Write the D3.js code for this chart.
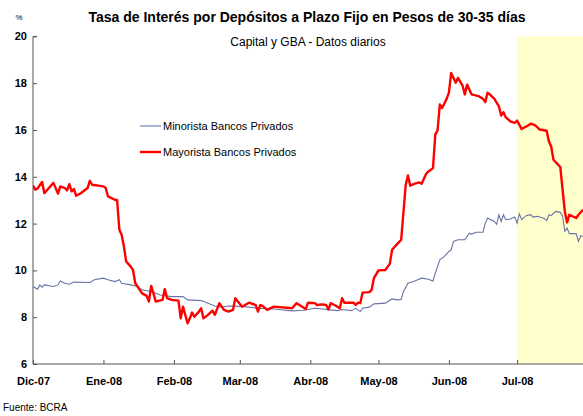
<!DOCTYPE html>
<html>
<head>
<meta charset="utf-8">
<script src="https://cdn.jsdelivr.net/npm/d3@7"></script>
<style>
  body { margin: 0; background: #fff; }
  text { font-family: "Liberation Sans", Arial, sans-serif; }
</style>
</head>
<body>
<div id="app"></div>
<script>
const monthLabels = ['Dic-07', 'Ene-08', 'Feb-08', 'Mar-08', 'Abr-08', 'May-08', 'Jun-08', 'Jul-08']
const monthDates = ['2007-12-01', '2008-01-01', '2008-02-01', '2008-03-01', '2008-04-01', '2008-05-01', '2008-06-01', '2008-07-01']
const yTicks = [6, 8, 10, 12, 14, 16, 18, 20]
const highlightStart = '2008-07-01'

// Minorista Bancos Privados
const minorista = [
  ['2007-12-01', 9.31], ['2007-12-03', 9.2], ['2007-12-04', 9.38], ['2007-12-05', 9.28], ['2007-12-06', 9.38],
  ['2007-12-10', 9.31], ['2007-12-12', 9.38], ['2007-12-13', 9.55], ['2007-12-15', 9.45], ['2007-12-17', 9.41],
  ['2007-12-19', 9.5], ['2007-12-26', 9.48], ['2007-12-28', 9.6], ['2008-01-01', 9.67], ['2008-01-03', 9.6],
  ['2008-01-06', 9.52], ['2008-01-08', 9.6], ['2008-01-09', 9.45], ['2008-01-13', 9.38], ['2008-01-16', 9.31],
  ['2008-01-18', 9.17], ['2008-01-22', 9.1], ['2008-01-26', 8.95], ['2008-01-31', 8.88], ['2008-02-05', 8.88],
  ['2008-02-07', 8.74], ['2008-02-13', 8.71], ['2008-02-16', 8.6], ['2008-02-19', 8.48], ['2008-02-22', 8.43],
  ['2008-02-25', 8.48], ['2008-03-03', 8.45], ['2008-03-09', 8.38], ['2008-03-16', 8.35], ['2008-03-24', 8.27],
  ['2008-03-29', 8.3], ['2008-04-03', 8.38], ['2008-04-13', 8.28], ['2008-04-15', 8.33], ['2008-04-19', 8.28],
  ['2008-04-21', 8.38], ['2008-04-23', 8.24], ['2008-04-24', 8.38], ['2008-04-27', 8.43], ['2008-04-29', 8.57],
  ['2008-05-04', 8.6], ['2008-05-07', 8.78], ['2008-05-09', 8.74], ['2008-05-11', 8.76], ['2008-05-12', 9.1],
  ['2008-05-14', 9.45], ['2008-05-17', 9.55], ['2008-05-20', 9.67], ['2008-05-23', 9.62], ['2008-05-25', 9.55],
  ['2008-05-26', 9.88], ['2008-05-28', 10.45], ['2008-05-30', 10.6], ['2008-06-01', 10.81], ['2008-06-02', 10.88],
  ['2008-06-03', 11.24], ['2008-06-05', 11.31], ['2008-06-08', 11.31], ['2008-06-10', 11.59], ['2008-06-11', 11.55],
  ['2008-06-13', 11.63], ['2008-06-16', 11.63], ['2008-06-17', 12.02], ['2008-06-18', 12.24], ['2008-06-21', 12.09],
  ['2008-06-22', 11.97], ['2008-06-23', 12.38], ['2008-06-24', 12.09], ['2008-06-25', 12.38], ['2008-06-26', 12.17],
  ['2008-06-28', 12.2], ['2008-06-30', 12.28], ['2008-07-01', 12.02], ['2008-07-02', 12.42], ['2008-07-03', 12.17],
  ['2008-07-05', 12.34], ['2008-07-07', 12.38], ['2008-07-08', 12.28], ['2008-07-10', 12.31], ['2008-07-13', 12.22],
  ['2008-07-14', 12.12], ['2008-07-15', 12.38], ['2008-07-16', 12.34], ['2008-07-18', 12.52], ['2008-07-20', 12.48],
  ['2008-07-21', 12.34], ['2008-07-22', 11.67], ['2008-07-23', 11.81], ['2008-07-24', 11.57], ['2008-07-27', 11.57],
  ['2008-07-28', 11.24], ['2008-07-29', 11.48], ['2008-07-30', 11.45]
]

// Mayorista Bancos Privados
const mayorista = [
  ['2007-12-01', 13.62], ['2007-12-02', 13.45], ['2007-12-03', 13.5], ['2007-12-05', 13.78], ['2007-12-06', 13.3],
  ['2007-12-08', 13.52], ['2007-12-10', 13.74], ['2007-12-12', 13.28], ['2007-12-13', 13.59], ['2007-12-15', 13.52],
  ['2007-12-16', 13.42], ['2007-12-17', 13.69], ['2007-12-18', 13.38], ['2007-12-19', 13.48], ['2007-12-20', 13.19],
  ['2007-12-22', 13.3], ['2007-12-25', 13.52], ['2007-12-26', 13.83], ['2007-12-27', 13.66], ['2008-01-01', 13.59],
  ['2008-01-02', 13.52], ['2008-01-03', 13.16], ['2008-01-06', 13.02], ['2008-01-07', 13.0], ['2008-01-08', 11.74],
  ['2008-01-09', 11.52], ['2008-01-10', 11.02], ['2008-01-11', 10.38], ['2008-01-13', 10.16], ['2008-01-14', 10.02],
  ['2008-01-15', 9.45], ['2008-01-16', 9.31], ['2008-01-18', 9.02], ['2008-01-20', 8.91], ['2008-01-21', 8.67],
  ['2008-01-22', 9.34], ['2008-01-23', 9.02], ['2008-01-24', 8.67], ['2008-01-27', 8.74], ['2008-01-28', 9.2],
  ['2008-01-29', 8.81], ['2008-01-31', 8.74], ['2008-02-03', 8.71], ['2008-02-04', 7.95], ['2008-02-05', 8.45],
  ['2008-02-07', 7.74], ['2008-02-08', 7.95], ['2008-02-09', 8.2], ['2008-02-10', 8.02], ['2008-02-12', 8.24],
  ['2008-02-13', 8.38], ['2008-02-14', 7.95], ['2008-02-16', 8.1], ['2008-02-18', 8.28], ['2008-02-19', 8.1],
  ['2008-02-21', 8.6], ['2008-02-23', 8.31], ['2008-02-25', 8.24], ['2008-02-27', 8.31], ['2008-02-28', 8.81],
  ['2008-03-02', 8.45], ['2008-03-05', 8.62], ['2008-03-08', 8.52], ['2008-03-09', 8.24], ['2008-03-10', 8.52],
  ['2008-03-11', 8.48], ['2008-03-13', 8.31], ['2008-03-16', 8.45], ['2008-03-24', 8.38], ['2008-03-26', 8.6],
  ['2008-03-30', 8.35], ['2008-03-31', 8.62], ['2008-04-03', 8.6], ['2008-04-04', 8.52], ['2008-04-06', 8.55],
  ['2008-04-08', 8.52], ['2008-04-09', 8.33], ['2008-04-10', 8.6], ['2008-04-12', 8.5], ['2008-04-14', 8.38],
  ['2008-04-15', 8.81], ['2008-04-16', 8.62], ['2008-04-20', 8.62], ['2008-04-21', 8.52], ['2008-04-22', 8.62],
  ['2008-04-23', 8.6], ['2008-04-24', 9.05], ['2008-04-27', 9.07], ['2008-04-28', 9.17], ['2008-04-29', 9.67],
  ['2008-05-01', 10.0], ['2008-05-04', 10.02], ['2008-05-06', 10.28], ['2008-05-07', 10.88], ['2008-05-09', 11.1],
  ['2008-05-11', 11.31], ['2008-05-13', 13.66], ['2008-05-14', 14.06], ['2008-05-15', 13.62], ['2008-05-17', 13.71],
  ['2008-05-19', 13.76], ['2008-05-20', 13.7], ['2008-05-22', 14.13], ['2008-05-23', 14.23], ['2008-05-25', 14.37],
  ['2008-05-26', 15.8], ['2008-05-27', 15.97], ['2008-05-28', 17.09], ['2008-05-29', 16.94], ['2008-05-31', 17.33],
  ['2008-06-01', 17.6], ['2008-06-02', 18.44], ['2008-06-04', 18.02], ['2008-06-05', 18.23], ['2008-06-07', 17.9],
  ['2008-06-08', 17.52], ['2008-06-09', 17.94], ['2008-06-11', 17.52], ['2008-06-14', 17.45], ['2008-06-16', 17.33],
  ['2008-06-17', 17.19], ['2008-06-18', 17.59], ['2008-06-19', 17.52], ['2008-06-21', 17.33], ['2008-06-23', 17.01],
  ['2008-06-24', 16.62], ['2008-06-25', 16.76], ['2008-06-26', 16.55], ['2008-06-28', 16.37], ['2008-06-30', 16.3],
  ['2008-07-01', 16.4], ['2008-07-03', 16.04], ['2008-07-06', 16.2], ['2008-07-07', 16.27], ['2008-07-09', 16.2],
  ['2008-07-11', 16.02], ['2008-07-14', 15.97], ['2008-07-15', 15.51], ['2008-07-16', 15.3], ['2008-07-17', 14.73],
  ['2008-07-20', 14.42], ['2008-07-22', 12.52], ['2008-07-23', 12.05], ['2008-07-24', 12.38], ['2008-07-27', 12.24],
  ['2008-07-28', 12.38], ['2008-07-30', 12.59]
]

const w = 583
const h = 416
const plotLeft = 33, plotRight = 583, plotTop = 36.4, plotBottom = 364

const parse = d3.timeParse('%Y-%m-%d')

const xScale = d3.scaleTime()
  .domain([parse('2007-12-01'), parse('2008-07-30')])
  .range([plotLeft, plotRight])

const yScale = d3.scaleLinear()
  .domain([6, 20])
  .range([plotBottom, plotTop])

const svg = d3.select('#app')
  .append('svg')
  .attr('width', w)
  .attr('height', h)

svg.append('defs').append('clipPath')
  .attr('id', 'plot')
  .append('rect')
  .attr('x', plotLeft)
  .attr('y', 0)
  .attr('width', plotRight - plotLeft)
  .attr('height', plotBottom)

// shaded period
svg.append('rect')
  .attr('x', xScale(parse(highlightStart)))
  .attr('y', plotTop)
  .attr('width', plotRight - xScale(parse(highlightStart)))
  .attr('height', plotBottom - plotTop)
  .attr('fill', '#ffffcc')

// titles
svg.append('text')
  .attr('x', 307)
  .attr('y', 22)
  .attr('text-anchor', 'middle')
  .style('font-size', '14px')
  .style('font-weight', 'bold')
  .text('Tasa de Interés por Depósitos a Plazo Fijo en Pesos de 30-35 días')

svg.append('text')
  .attr('x', 308)
  .attr('y', 46)
  .attr('text-anchor', 'middle')
  .style('font-size', '12px')
  .text('Capital y GBA - Datos diarios')

svg.append('text')
  .attr('x', 19)
  .attr('y', 20)
  .attr('text-anchor', 'middle')
  .style('font-size', '8px')
  .text('%')

// axes
const yAxis = d3.axisRight(yScale)
  .tickValues(yTicks)
  .tickSize(4)
  .tickFormat(d3.format('d'))

const gy = svg.append('g')
  .attr('transform', `translate(${plotLeft},0)`)
  .call(yAxis)
gy.select('.domain').attr('d', `M4,${plotTop}H0V${plotBottom}`).attr('stroke', '#555')
gy.selectAll('.tick line').attr('stroke', '#555')
gy.selectAll('.tick text')
  .attr('x', -6)
  .attr('text-anchor', 'end')
  .style('font-family', '"Liberation Sans", Arial, sans-serif')
  .style('font-size', '11px')
  .style('font-weight', 'bold')
  .attr('fill', '#000')

const xAxis = d3.axisTop(xScale)
  .tickValues(monthDates.map(parse))
  .tickSize(4)
  .tickFormat((d, i) => monthLabels[i])

const gx = svg.append('g')
  .attr('transform', `translate(0,${plotBottom})`)
  .call(xAxis)
gx.select('.domain').attr('d', `M${plotLeft},0H${plotRight}`).attr('stroke', '#555')
gx.selectAll('.tick line').attr('stroke', '#555')
gx.selectAll('.tick text')
  .attr('y', 21)
  .style('font-family', '"Liberation Sans", Arial, sans-serif')
  .style('font-size', '11px')
  .style('font-weight', 'bold')
  .attr('fill', '#000')

// lines
const line = d3.line()
  .x(d => xScale(parse(d[0])))
  .y(d => yScale(d[1]))

const plot = svg.append('g').attr('clip-path', 'url(#plot)')

plot.append('path')
  .datum(minorista)
  .attr('fill', 'none')
  .attr('stroke', '#6a73a6')
  .attr('stroke-width', 1.1)
  .attr('d', line)

plot.append('path')
  .datum(mayorista)
  .attr('fill', 'none')
  .attr('stroke', '#ff0000')
  .attr('stroke-width', 2.4)
  .attr('stroke-linejoin', 'round')
  .attr('d', line)

// legend
const legend = svg.append('g')
legend.append('line')
  .attr('x1', 140).attr('x2', 161).attr('y1', 126).attr('y2', 126)
  .attr('stroke', '#6a73a6').attr('stroke-width', 1.1)
legend.append('text')
  .attr('x', 163).attr('y', 130)
  .style('font-size', '11px')
  .text('Minorista Bancos Privados')
legend.append('line')
  .attr('x1', 140).attr('x2', 161).attr('y1', 152).attr('y2', 152)
  .attr('stroke', '#ff0000').attr('stroke-width', 2.4)
legend.append('text')
  .attr('x', 163).attr('y', 156)
  .style('font-size', '11px')
  .text('Mayorista Bancos Privados')

svg.append('text')
  .attr('x', 3)
  .attr('y', 411)
  .style('font-size', '10px')
  .text('Fuente: BCRA')
</script>
</body>
</html>
